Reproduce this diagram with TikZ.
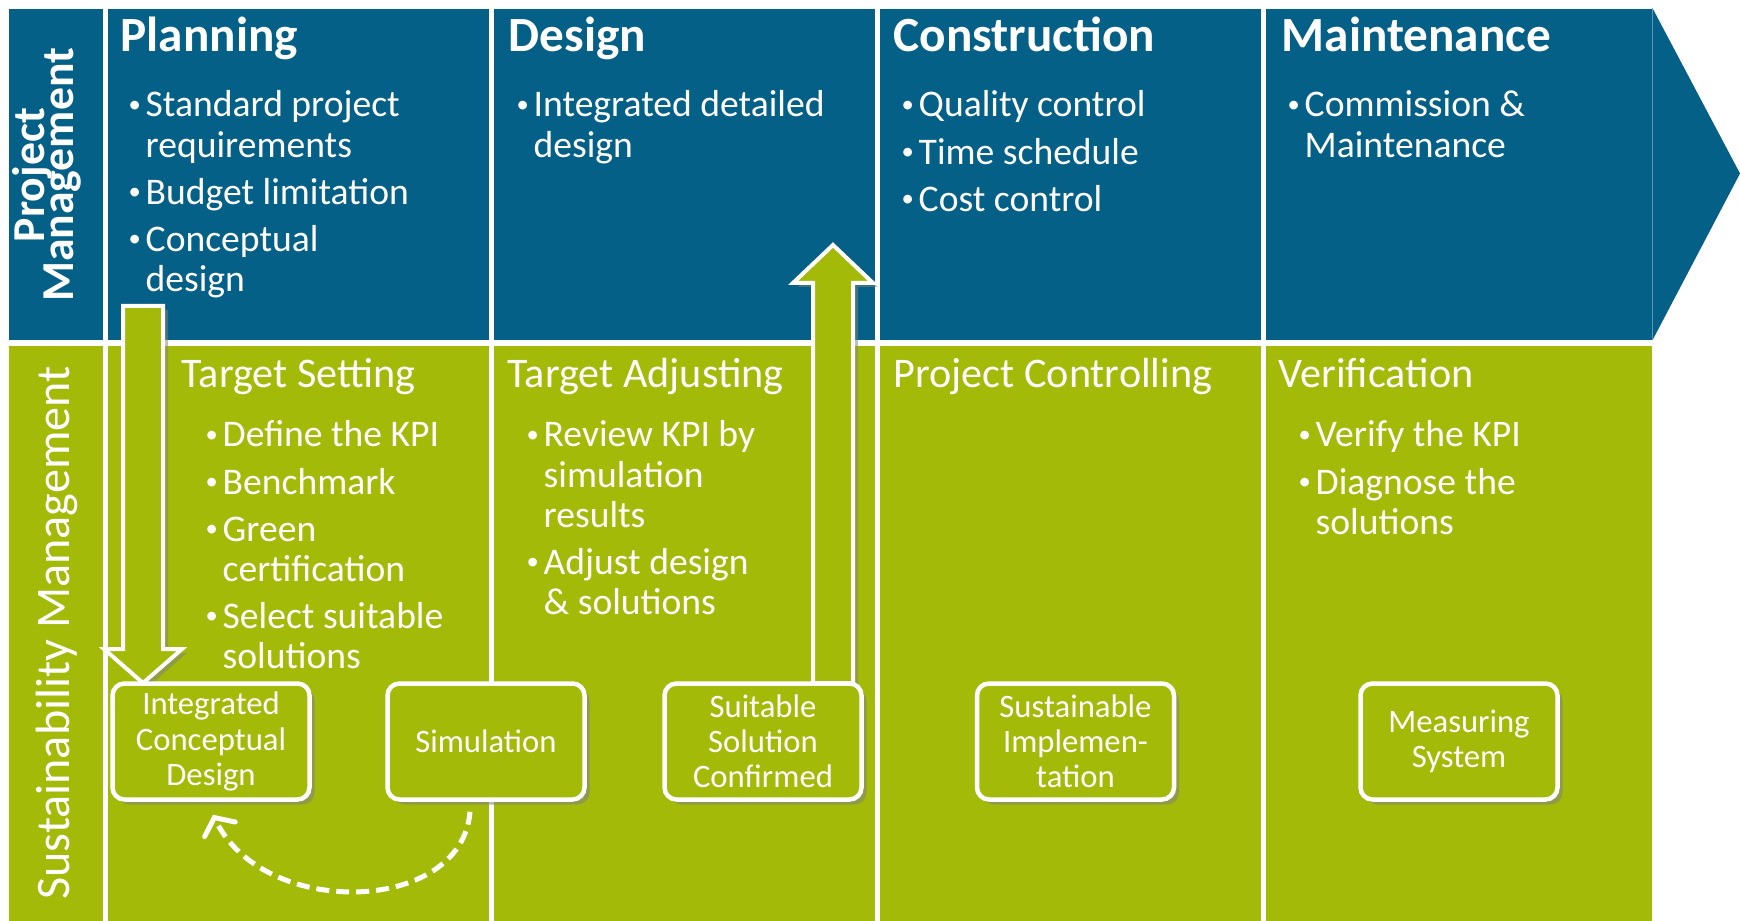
\documentclass[tikz,border=0pt]{standalone}
\usepackage{fontspec}
\setmainfont{Carlito}
\usepackage{xcolor}
\usepackage{tikz}
\usetikzlibrary{arrows.meta,shadows}

\definecolor{pmblue}{RGB}{5,96,135}
\definecolor{smgreen}{RGB}{163,186,9}
\newcommand{\bul}{\makebox[0.17cm][l]{\raisebox{1.3pt}{\fontsize{7}{7}\selectfont\textbullet}}}

\begin{document}
\begin{tikzpicture}[
    cell/.style={anchor=north west, inner sep=0pt, minimum width=3.81cm},
    bluecell/.style={cell, fill=pmblue, minimum height=3.31cm},
    greencell/.style={cell, fill=smgreen, minimum height=5.76cm},
    phase/.style={anchor=base west, inner sep=0pt, text=white, font=\fontsize{14}{16}\selectfont\bfseries},
    task/.style={anchor=base west, inner sep=0pt, text=white, font=\fontsize{12}{14}\selectfont},
    items/.style={anchor=base west, inner sep=0pt, text=white, font=\fontsize{10.7}{11.4}\selectfont},
    lane/.style={rotate=90, inner sep=0pt, text=white, align=center},
    stepbox/.style={draw=white, line width=0.045cm, rounded corners=0.12cm, fill=smgreen,
        text=white, align=center, minimum width=1.97cm, minimum height=1.16cm, inner sep=1pt,
        font=\fontsize{9.3}{10}\selectfont,
        drop shadow={shadow xshift=0.05cm, shadow yshift=-0.05cm, opacity=0.55}},
    blockarrow/.style={draw=white, line width=0.04cm, fill=smgreen, line join=miter,
        drop shadow={shadow xshift=0.05cm, shadow yshift=-0.04cm, opacity=0.5}},
    feedback/.style={draw=white, line width=0.05cm, dash pattern=on 0.13cm off 0.07cm,
        -{Straight Barb[length=0.13cm, width=0.34cm, line cap=round]}}
]
\useasboundingbox (0,0) rectangle (17.4,-9.21);

% project management lane
\node[bluecell, minimum width=0.94cm] (pm) at (0.08,-0.08) {};
\node[bluecell] (plan) at (1.07,-0.08) {};
\node[bluecell] (design) at (4.93,-0.08) {};
\node[bluecell] (constr) at (8.79,-0.08) {};
\node[bluecell, minimum width=3.86cm] (maint) at (12.65,-0.08) {};
\fill[pmblue] (maint.north east) -- (17.4,-1.735) -- (maint.south east) -- cycle;

% sustainability management lane
\node[greencell, minimum width=0.94cm] (sm) at (0.08,-3.45) {};
\node[greencell] (tset) at (1.07,-3.45) {};
\node[greencell] (tadj) at (4.93,-3.45) {};
\node[greencell] (pctrl) at (8.79,-3.45) {};
\node[greencell, minimum width=3.86cm] (verif) at (12.65,-3.45) {};

\node[lane, font=\fontsize{13}{13}\selectfont\bfseries] at (0.47,-1.75) {Project\\[-4.7pt]Management};
\node[lane, font=\fontsize{13.7}{16}\selectfont] at (0.57,-6.33) {Sustainability Management};

\node[phase] at ([xshift=0.13cm,yshift=-0.44cm]plan.north west) {Planning};
\node[phase] at ([xshift=0.15cm,yshift=-0.44cm]design.north west) {Design};
\node[phase] at ([xshift=0.14cm,yshift=-0.44cm]constr.north west) {Construction};
\node[phase] at ([xshift=0.16cm,yshift=-0.44cm]maint.north west) {Maintenance};

\node[items] at ([xshift=0.21cm,yshift=-1.09cm]plan.north west) {\begin{tabular}[t]{@{}l@{}l@{}}
  \bul & Standard project\\ & requirements\\[0.07cm]
  \bul & Budget limitation\\[0.07cm]
  \bul & Conceptual\\ & design\end{tabular}};
\node[items] at ([xshift=0.23cm,yshift=-1.09cm]design.north west) {\begin{tabular}[t]{@{}l@{}l@{}}
  \bul & Integrated detailed\\ & design\end{tabular}};
\node[items] at ([xshift=0.22cm,yshift=-1.09cm]constr.north west) {\begin{tabular}[t]{@{}l@{}l@{}}
  \bul & Quality control\\[0.07cm]
  \bul & Time schedule\\[0.07cm]
  \bul & Cost control\end{tabular}};
\node[items] at ([xshift=0.22cm,yshift=-1.09cm]maint.north west) {\begin{tabular}[t]{@{}l@{}l@{}}
  \bul & Commission \&\\ & Maintenance\end{tabular}};

\node[task] at ([xshift=0.74cm,yshift=-0.43cm]tset.north west) {Target Setting};
\node[task] at ([xshift=0.14cm,yshift=-0.43cm]tadj.north west) {Target Adjusting};
\node[task] at ([xshift=0.14cm,yshift=-0.43cm]pctrl.north west) {Project Controlling};
\node[task] at ([xshift=0.13cm,yshift=-0.43cm]verif.north west) {Verification};

\node[items] at ([xshift=0.98cm,yshift=-1.02cm]tset.north west) {\begin{tabular}[t]{@{}l@{}l@{}}
  \bul & Define the KPI\\[0.07cm]
  \bul & Benchmark\\[0.07cm]
  \bul & Green\\ & certification\\[0.07cm]
  \bul & Select suitable\\ & solutions\end{tabular}};
\node[items] at ([xshift=0.33cm,yshift=-1.02cm]tadj.north west) {\begin{tabular}[t]{@{}l@{}l@{}}
  \bul & Review KPI by\\ & simulation\\ & results\\[0.07cm]
  \bul & Adjust design\\ & \& solutions\end{tabular}};
\node[items] at ([xshift=0.33cm,yshift=-1.02cm]verif.north west) {\begin{tabular}[t]{@{}l@{}l@{}}
  \bul & Verify the KPI\\[0.07cm]
  \bul & Diagnose the\\ & solutions\end{tabular}};

% block arrows between the lanes
\coordinate (dtop) at (1.43,-3.06);
\coordinate (dtip) at (1.43,-6.83);
\coordinate (utip) at (8.33,-2.45);
\coordinate (ubase) at (8.33,-6.83);
\draw[blockarrow] ([xshift=-0.2cm]dtop) -- ([xshift=-0.2cm,yshift=0.34cm]dtip)
  -- ([xshift=-0.39cm,yshift=0.34cm]dtip) -- (dtip) -- ([xshift=0.39cm,yshift=0.34cm]dtip)
  -- ([xshift=0.2cm,yshift=0.34cm]dtip) -- ([xshift=0.2cm]dtop) -- cycle;
\draw[blockarrow] ([xshift=-0.2cm]ubase) -- ([xshift=-0.2cm,yshift=-0.38cm]utip)
  -- ([xshift=-0.4cm,yshift=-0.38cm]utip) -- (utip) -- ([xshift=0.4cm,yshift=-0.38cm]utip)
  -- ([xshift=0.2cm,yshift=-0.38cm]utip) -- ([xshift=0.2cm]ubase) -- cycle;

\node[stepbox] (icd) at (2.11,-7.415) {Integrated\\Conceptual\\Design};
\node[stepbox] (sim) at (4.86,-7.415) {Simulation};
\node[stepbox] (ssc) at (7.63,-7.415) {Suitable\\Solution\\Confirmed};
\node[stepbox] (simpl) at (10.755,-7.415) {Sustainable\\Implemen-\\tation};
\node[stepbox] (msys) at (14.59,-7.415) {Measuring\\System};

\draw[feedback] ([xshift=-0.16cm,yshift=-0.1cm]sim.south) .. controls +(-0.08,-1.03) and +(0.5,-1.05) .. ([xshift=0.02cm,yshift=-0.13cm]icd.south);
\end{tikzpicture}
\end{document}
